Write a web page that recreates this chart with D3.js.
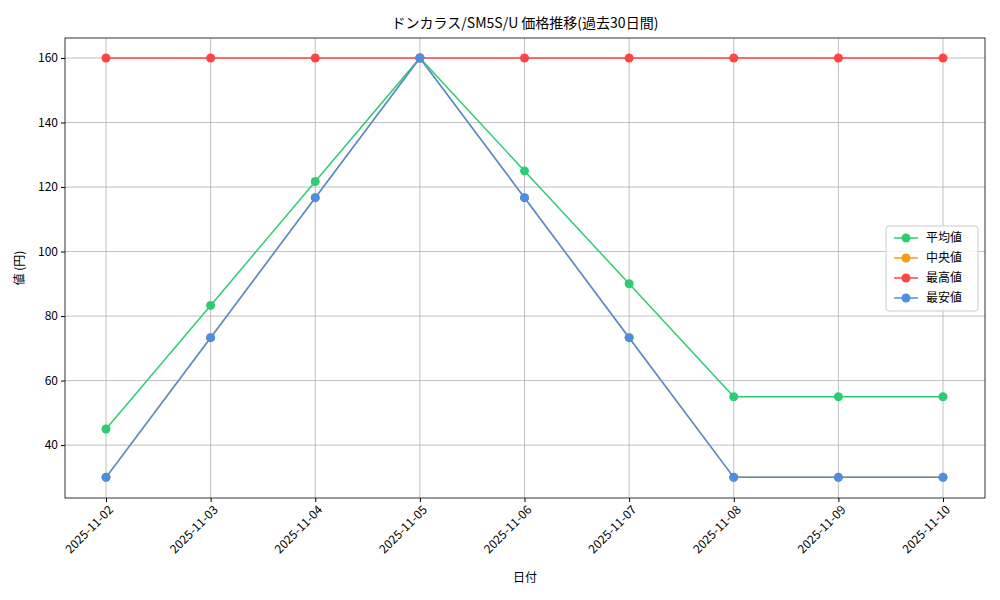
<!DOCTYPE html>
<html><head><meta charset="utf-8">
<script src="https://cdn.jsdelivr.net/npm/d3@7"></script>
<style>body{margin:0;background:#fff}text{font-family:"Noto Sans CJK JP","DejaVu Sans",sans-serif}</style>
</head><body><svg id="c" width="1000" height="600"></svg>
<script>
const dates = ["2025-11-02","2025-11-03","2025-11-04","2025-11-05","2025-11-06","2025-11-07","2025-11-08","2025-11-09","2025-11-10"];
const avgValues = [45, 83.3, 121.7, 160, 125, 90, 55, 55, 55];
const medianValues = [30, 73.3, 116.7, 160, 116.7, 73.3, 30, 30, 30];
const maxValues = [160, 160, 160, 160, 160, 160, 160, 160, 160];
const minValues = [30, 73.3, 116.7, 160, 116.7, 73.3, 30, 30, 30];
const yTicks = [40, 60, 80, 100, 120, 140, 160];

const series = [
  { name: "平均値", color: "#2ecc71", values: avgValues },
  { name: "中央値", color: "#f39c12", values: medianValues },
  { name: "最高値", color: "#ff4444", values: maxValues },
  { name: "最安値", color: "#4a90e2", values: minValues }
];

// plot area bounds
const pL = 65, pR = 985, pT = 38, pB = 498;
const svg = d3.select("#c");
const x = d3.scalePoint().domain(dates).range([106, 943]);
const y = d3.scaleLinear().domain([23.6, 166.2]).range([pB, pT]);

// grid
svg.append("g").selectAll("line").data(dates).enter().append("line")
  .attr("x1", d => x(d)).attr("x2", d => x(d)).attr("y1", pT).attr("y2", pB)
  .attr("stroke", "#b0b0b0").attr("stroke-width", 0.8);
svg.append("g").selectAll("line").data(yTicks).enter().append("line")
  .attr("x1", pL).attr("x2", pR).attr("y1", d => y(d)).attr("y2", d => y(d))
  .attr("stroke", "#b0b0b0").attr("stroke-width", 0.8);

// axes
const xa = svg.append("g").attr("transform", `translate(0,${pB})`)
  .call(d3.axisBottom(x).tickSizeOuter(0).tickSize(4));
xa.select(".domain").remove();
xa.selectAll("text").attr("transform", "rotate(-45)").attr("text-anchor", "end")
  .attr("dx", "-0.3em").attr("dy", "0.6em").style("font-size", "12px").attr("fill", "#000");
const ya = svg.append("g").attr("transform", `translate(${pL},0)`)
  .call(d3.axisLeft(y).tickValues(yTicks).tickSize(4));
ya.select(".domain").remove();
ya.selectAll("text").style("font-size", "12px").attr("fill", "#000");
svg.append("rect").attr("x", pL).attr("y", pT).attr("width", pR - pL).attr("height", pB - pT)
  .attr("fill", "none").attr("stroke", "#000").attr("stroke-width", 0.8);

// lines
const line = d3.line().x((d, i) => x(dates[i])).y(d => y(d));
series.forEach(s => {
  const g = svg.append("g");
  g.append("path").datum(s.values).attr("d", line).attr("fill", "none")
    .attr("stroke", s.color).attr("stroke-width", 1.5);
  g.selectAll("circle").data(s.values).enter().append("circle")
    .attr("cx", (d, i) => x(dates[i])).attr("cy", d => y(d)).attr("r", 4.5).attr("fill", s.color);
});

// titles
svg.append("text").attr("x", (pL + pR) / 2).attr("y", 28).attr("text-anchor", "middle")
  .style("font-size", "14px").text("ドンカラス/SM5S/U 価格推移(過去30日間)");
svg.append("text").attr("x", (pL + pR) / 2).attr("y", 582).attr("text-anchor", "middle")
  .style("font-size", "12px").text("日付");
svg.append("text").attr("transform", `translate(24,${(pT + pB) / 2}) rotate(-90)`)
  .attr("text-anchor", "middle").style("font-size", "12px").text("値 (円)");

// legend
const lg = svg.append("g").attr("transform", "translate(886,226)");
lg.append("rect").attr("width", 92).attr("height", 85).attr("rx", 3)
  .attr("fill", "#fff").attr("fill-opacity", 0.8).attr("stroke", "#ccc");
series.forEach((s, i) => {
  const row = lg.append("g").attr("transform", `translate(8,${12 + i * 20})`);
  row.append("line").attr("x1", 0).attr("x2", 24).attr("stroke", s.color).attr("stroke-width", 1.5);
  row.append("circle").attr("cx", 12).attr("r", 4.5).attr("fill", s.color);
  row.append("text").attr("x", 32).attr("dy", "0.35em").style("font-size", "12px").text(s.name);
});
</script></body></html>
